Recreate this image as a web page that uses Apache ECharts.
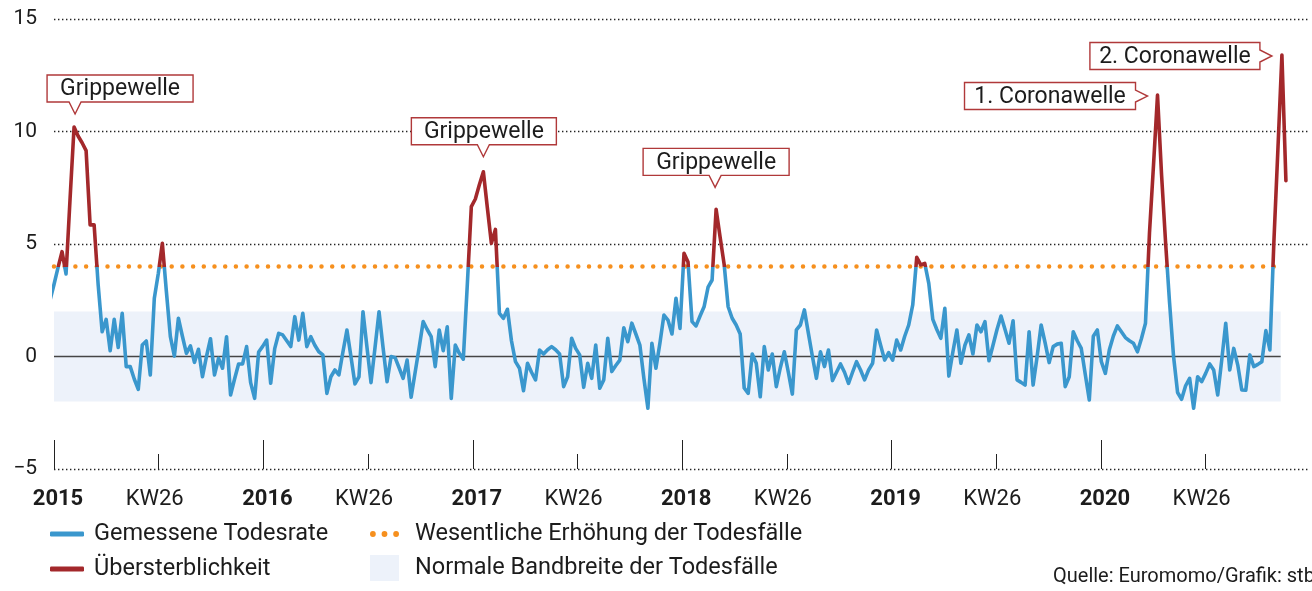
<!DOCTYPE html>
<html>
<head>
<meta charset="utf-8">
<title>Übersterblichkeit</title>
<script src="https://cdn.jsdelivr.net/npm/echarts@6/dist/echarts.min.js"></script>
<style>
  html, body { margin: 0; padding: 0; background: #fff; }
  #chart { width: 1312px; height: 591px; }
</style>
</head>
<body>
<div id="chart"></div>
<script>
// Wochenwerte (z-score), erster Wert eine Woche vor KW1 2015
const firstWeek = -1
const rate2015 = [2.5, 3.2, 3.95, 4.66, 3.67, 7.0, 10.2, 9.8, 9.5, 9.15, 5.85, 5.85, 3.2, 1.1, 1.65, 0.26, 1.65, 0.4, 1.92, -0.45,
  -0.45, -1.0, -1.46, 0.51, 0.69, -0.82, 2.59, 3.7, 5.03, 2.9, 0.88, 0.02, 1.7, 0.9, 0.14, 0.47, -0.26, 0.32, -0.9, 0.0,
  0.79, -0.82, -0.08, -0.52, 0.88, -1.71, -1.0, -0.33, -0.33, 0.44, -1.16, -1.86, 0.2]
const rate2016 = [0.45, 0.73, -1.19, 0.35, 1.03, 0.96, 0.7, 0.44, 1.77, 0.73, 1.92, 0.44, 0.88, 0.5, 0.21, 0.07, -1.64, -0.9, -0.6, -0.82,
  0.2, 1.18, 0.0, -1.22, -0.9, 1.99, 0.4, -1.16, 0.4, 1.99, 0.4, -1.12, 0.0, -0.05, -0.5, -0.97, -0.16, -1.81, -0.7, 0.4,
  1.55, 1.2, 0.88, -0.45, 1.18, 0.26, 1.32, -1.86, 0.51, 0.14, -0.12, 3.2]
const rate2017 = [6.66, 7.0, 7.63, 8.21, 6.6, 5.03, 5.65, 1.92, 1.7, 2.1, 0.7, -0.23, -0.52, -1.52, -0.3, -0.7, -1.04, 0.29, 0.11, 0.3,
  0.44, 0.3, 0.11, -1.34, -0.9, 0.81, 0.36, 0.07, -1.37, -0.3, -0.97, 0.51, -1.41, -1.04, 0.81, -0.67, -0.4, -0.16, 1.28, 0.66,
  1.48, 1.0, 0.51, -0.97, -2.3, 0.59, -0.52, 0.6, 1.84, 1.62, 1.0, 2.59]
const rate2018 = [1.25, 4.59, 4.2, 1.55, 1.36, 1.8, 2.21, 3.08, 3.4, 6.54, 5.3, 4.1, 2.21, 1.7, 1.4, 1.0, -1.4, -1.64, 0.11, -0.3,
  -1.79, 0.44, -0.6, 0.11, -1.34, -0.5, 0.21, -0.7, -1.67, 1.18, 1.4, 2.07, 1.03, 0.0, -0.97, 0.21, -0.45, 0.29, -1.07, -0.7,
  -0.33, -0.7, -1.19, -0.7, -0.23, -0.6, -1.04, -0.6, -0.3, 1.18, 0.5, -0.16]
const rate2019 = [0.17, -0.16, 0.73, 0.29, 0.9, 1.4, 2.29, 4.41, 4.07, 4.14, 3.25, 1.65, 1.2, 0.81, 2.14, -0.87, 0.2, 1.18, -0.3, 0.5,
  0.96, 0.11, 1.4, 1.1, 1.55, -0.19, 0.5, 1.2, 1.8, 1.2, 0.59, 1.59, -1.04, -1.15, -1.27, 1.1, -1.27, 0.0, 1.4, 0.6,
  -0.27, 0.44, 0.55, 0.59, -1.34, -0.9, 1.1, 0.7, 0.36, -0.8, -1.93, 0.9]
const rate2020 = [1.18, -0.23, -0.75, 0.3, 0.91, 1.36, 1.1, 0.84, 0.7, 0.59, 0.21, 0.8, 1.48, 5.5, 8.5, 11.62, 8.1, 5.1, 2.4, 0.0,
  -1.6, -1.9, -1.3, -0.97, -2.3, -0.9, -1.12, -0.75, -0.33, -0.6, -1.71, -0.16, 1.48, -0.6, 0.36, -0.38, -1.49, -1.5, 0.07, -0.45,
  -0.35, -0.23, 1.15, 0.29, 5.1, 9.2, 13.4, 7.81]

const threshold = 4       // Wesentliche Erhöhung
const normalLow = -2      // Normale Bandbreite
const normalHigh = 2
const refEnd = 305.7      // Ende der Referenzlinien (Wochen)

const weeksPerYear = 52.18
const tickLabels = ['2015', 'KW26', '2016', 'KW26', '2017', 'KW26', '2018', 'KW26', '2019', 'KW26', '2020', 'KW26']

const annotNames = ['Grippewelle', 'Grippewelle', 'Grippewelle', '1. Coronawelle', '2. Coronawelle']
const annotWeeks = [5, 107, 165, 275, 306]

const blue = '#3a97cd'
const red = '#a3282b'
const orange = '#f6901e'
const band = '#edf2fa'
const ink = '#1c1c1c'
const boxRed = '#b0393a'
const font = 'Roboto, "Liberation Sans", sans-serif'

const yMin = -5, yMax = 15
const rates = [].concat(rate2015, rate2016, rate2017, rate2018, rate2019, rate2020)
const lineData = rates.map((v, i) => [firstWeek + i, v])
const halfYear = weeksPerYear / 2
const tickWeeks = tickLabels.map((_, i) => i * halfYear)
const yearWeeks = tickWeeks.filter((_, i) => i % 2 === 0)
const xMax = 313

// Kasten: Richtung des Zeigers, Breite, Zeigerposition, Versatz, Abstand zur Spitze
const calloutLayout = [
  ['down', 146, 28, 1, 13],
  ['down', 145, 72, 0, 15],
  ['down', 146, 72, -1, 22],
  ['right', 171, 0, 1, 10],
  ['right', 170, 0, 1, 10]
]

function renderCallout(params, api) {
  const p = api.coord([api.value(0), api.value(1)])
  const i = api.value(2)
  const [dir, w, pOff, dx, gap] = calloutLayout[i]
  const h = 27, d = 12
  let pts, cx, cy
  if (dir === 'down') {
    const tx = p[0] + dx, ty = p[1] - gap
    const L = tx - pOff, T = ty - d - h
    pts = [[L, T], [L + w, T], [L + w, T + h], [tx + 6, T + h], [tx, ty], [tx - 6, T + h], [L, T + h]]
    cx = L + w / 2; cy = T + h / 2
  } else {
    const tx = p[0] - gap, ty = p[1] + dx
    const R = tx - d, L = R - w, T = ty - h / 2
    pts = [[L, T], [R, T], [R, ty - 6], [tx, ty], [R, ty + 6], [R, T + h], [L, T + h]]
    cx = L + w / 2; cy = ty
  }
  return {
    type: 'group',
    children: [
      { type: 'polygon', shape: { points: pts }, style: { fill: '#fff', stroke: boxRed, lineWidth: 1.4 } },
      {
        type: 'text',
        style: {
          text: annotNames[i], x: cx, y: cy + 1, align: 'center', verticalAlign: 'middle',
          fill: ink, fontSize: 23, fontFamily: font
        }
      }
    ]
  }
}

const tickAxis = (values, len) => ({
  type: 'value', min: 0, max: xMax, position: 'bottom', offset: 0,
  axisLine: { show: false },
  splitLine: { show: false },
  axisLabel: { show: false },
  axisTick: { show: true, inside: true, length: len, customValues: values, lineStyle: { color: '#222', width: 1 } }
})

const chart = echarts.init(document.getElementById('chart'))
chart.setOption({
  animation: false,
  textStyle: { fontFamily: font },
  title: {
    text: 'Quelle: Euromomo/Grafik: stb',
    left: 1053, top: 567, padding: 0,
    textStyle: { fontSize: 20, fontWeight: 'normal', color: ink, fontFamily: font }
  },
  grid: { left: 54, right: 2, top: 19, bottom: 122 },
  legend: [{
    orient: 'vertical', left: 50, top: 522, padding: 0,
    itemWidth: 34, itemHeight: 5, itemGap: 11, selectedMode: false,
    textStyle: { fontSize: 23.5, color: ink, padding: [0, 0, 0, 5] },
    data: [
      { name: 'Gemessene Todesrate', icon: 'roundRect', itemStyle: { color: blue, borderWidth: 0 } },
      { name: 'Übersterblichkeit', icon: 'roundRect', itemStyle: { color: red, borderWidth: 0 } }
    ]
  }, {
    orient: 'vertical', left: 370, top: 522, padding: 0,
    itemWidth: 29, itemHeight: 26, itemGap: 9, selectedMode: false,
    textStyle: { fontSize: 23.5, color: ink, padding: [0, 0, 0, 11] },
    data: [
      {
        name: 'Wesentliche Erhöhung der Todesfälle',
        icon: 'path://M0,2.5a2.5,2.5 0 1,0 5,0a2.5,2.5 0 1,0 -5,0M10,2.5a2.5,2.5 0 1,0 5,0a2.5,2.5 0 1,0 -5,0M20,2.5a2.5,2.5 0 1,0 5,0a2.5,2.5 0 1,0 -5,0',
        itemStyle: { color: orange, borderWidth: 0 }
      },
      { name: 'Normale Bandbreite der Todesfälle', icon: 'rect', itemStyle: { color: band, borderWidth: 0 } }
    ]
  }],
  visualMap: {
    type: 'piecewise', show: false, seriesIndex: 0, dimension: 1,
    pieces: [
      { gt: threshold, lte: yMax, color: red },
      { gt: yMin, lte: threshold, color: blue }
    ]
  },
  xAxis: [{
    type: 'value', min: 0, max: xMax, interval: halfYear, position: 'bottom',
    axisLine: { show: false },
    splitLine: { show: false },
    axisTick: { show: false },
    axisLabel: {
      margin: 19, color: ink, showMaxLabel: false,
      formatter: v => {
        const i = Math.round(v / halfYear)
        if (i >= tickLabels.length) return ''
        return i % 2 === 0 ? `{yr|${tickLabels[i]}}` : `{kw|${tickLabels[i]}}`
      },
      rich: {
        yr: { fontSize: 22, fontWeight: 'bold', color: ink, fontFamily: font, padding: [0, 0, 0, 8] },
        kw: { fontSize: 22, color: ink, fontFamily: font, padding: [0, 8, 0, 0] }
      }
    }
  }, tickAxis(tickWeeks, 15), tickAxis(yearWeeks, 29)],
  yAxis: {
    type: 'value', min: yMin, max: yMax, interval: 5,
    axisLine: { show: false }, axisTick: { show: false },
    axisLabel: {
      margin: 17, fontSize: 21, color: ink,
      formatter: v => (v < 0 ? '\u2212' + Math.abs(v) : String(v))
    },
    splitLine: {
      lineStyle: { color: ['#222', 'rgba(0,0,0,0)', '#222', '#222', '#222'], type: [1.4, 2.6], width: 1.4 }
    }
  },
  series: [
    {
      name: 'Gemessene Todesrate', type: 'line', data: lineData,
      symbol: 'none', clip: false, silent: true, z: 5,
      lineStyle: { width: 3.6, join: 'round', cap: 'round' }
    },
    {
      name: 'Übersterblichkeit', type: 'line', data: [], color: red
    },
    {
      name: 'Wesentliche Erhöhung der Todesfälle', type: 'line',
      data: [[0, threshold], [refEnd, threshold]],
      symbol: 'none', silent: true, z: 4, color: orange,
      lineStyle: { color: orange, width: 4.5, type: [0, 10.7], cap: 'round' }
    },
    {
      name: 'Normale Bandbreite der Todesfälle', type: 'line', data: [],
      color: band, z: 1, silent: true,
      markArea: {
        silent: true,
        itemStyle: { color: band },
        data: [[{ coord: [0, normalLow] }, { coord: [refEnd, normalHigh] }]]
      }
    },
    {
      type: 'line', data: [[0, 0], [refEnd, 0]],
      symbol: 'none', silent: true, z: 2,
      lineStyle: { color: '#454545', width: 1.6 }
    },
    {
      type: 'custom', z: 10, silent: true, clip: false,
      data: annotWeeks.map((w, i) => [w, rates[w - firstWeek], i]),
      renderItem: renderCallout
    }
  ]
})
</script>
</body>
</html>
